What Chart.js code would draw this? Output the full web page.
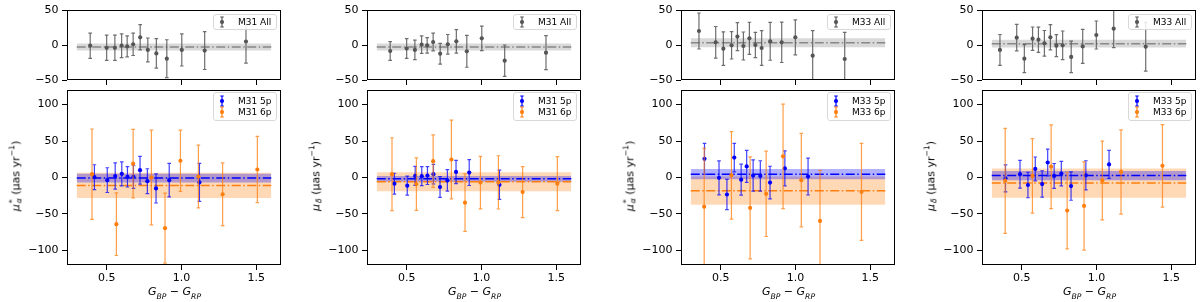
<!DOCTYPE html>
<html>
<head>
<meta charset="utf-8">
<script src="https://cdn.jsdelivr.net/npm/chart.js@4.4.1/dist/chart.umd.min.js"></script>
<style>
body { margin: 0; background: #fff; width: 1200px; height: 302px; position: relative; overflow: hidden; font-family: 'DejaVu Sans', sans-serif; }
canvas { position: absolute; }
.leg { position: absolute; width: 64px; border: 1px solid #d8d8d8; border-radius: 3px; background: rgba(255,255,255,0.85); font-size: 9px; color: #000; box-sizing: border-box; }
.leg div { position: absolute; left: 24px; white-space: nowrap; line-height: 10px; }
.leg svg { position: absolute; left: 0; }
.xlab { position: absolute; font-size: 11px; transform: translate(-50%, -50%); white-space: nowrap; }
.ylab { position: absolute; font-size: 11px; transform: translate(-50%, -50%) rotate(-90deg); white-space: nowrap; }
.ylab sup, .xlab sub { font-size: 0.7em; }
.ss { display: inline-flex; flex-direction: column; vertical-align: middle; font-size: 0.7em; line-height: 0.85; margin-left: 1px; }
</style>
</head>
<body>
<script>
// x 座標（色指数 GBP-GRP）と固有運動の値（μas/yr）

// M31
const m31AllColor = [0.39, 0.50, 0.555, 0.60, 0.637, 0.677, 0.724, 0.775, 0.832, 0.902, 1.002, 1.155, 1.431];
const m31AllPmra = [-1, -4, -4, -1, -2, 1, 11, -7, -12, -19.5, -7, -8, 5];
const m31AllPmraErr = [18, 18, 18, 17, 15, 16, 18, 17, 21, 27, 23, 27, 31];
const m31AllPmdec = [-8.6, -5, -7, 0.5, -0.5, 4.3, -12.4, 1, 5.2, -9, 9.5, -22.4, -11];
const m31AllPmdecErr = [13.5, 14, 14, 12.5, 11, 12.6, 14.8, 14, 16.7, 22.8, 17.5, 22.4, 24.3];

const m31Color5p = [0.418, 0.504, 0.557, 0.601, 0.639, 0.679, 0.723, 0.772, 0.83, 0.918, 1.12];
const m31Pmra5p = [0.5, -3.6, 2, 5, 1, 1, 10, -5, -15, -3.6, -6.7];
const m31PmraErr5p = [17, 17, 18, 16.5, 14, 16, 19, 17, 20, 23, 26];
const m31Pmdec5p = [-8.5, -11.2, 2.2, 1.8, 2.7, 4.5, -13, -4, 7.6, 6.7, -10];
const m31PmdecErr5p = [14.3, 13, 13, 13, 12.3, 13.4, 14.3, 14.8, 16, 17.7, 20];

const m31Color6p = [0.402, 0.565, 0.677, 0.799, 0.89, 0.993, 1.113, 1.275, 1.507];
const m31Pmra6p = [4.5, -64, 19, 0, -69.5, 23, 1.3, -23, 11];
const m31PmraErr6p = [62, 43, 47, 65, 48, 42, 43, 43, 45.5];
const m31Pmdec6p = [4.5, -9, 22.4, 24.7, -34.5, -7, -6.7, -20, -8.5];
const m31PmdecErr6p = [50, 36, 36, 54, 39.5, 36, 36.5, 35, 37];

// M33
const m33AllColor = [0.355, 0.467, 0.518, 0.573, 0.612, 0.652, 0.692, 0.732, 0.774, 0.831, 0.908, 0.999, 1.115, 1.329];
const m33AllPmra = [20, 3.8, -5.2, -0.5, 12, -1.4, 9.5, 0, -4.3, 5.2, 3.8, 11, -15.2, -20];
const m33AllPmraErr = [25.7, 22.6, 24, 19.5, 20, 20, 23, 18, 24.8, 27, 28.8, 25, 35.7, 38];
const m33AllPmdec = [-7, 10.5, -19.5, 9, 7.6, 2.4, 11, -1, -0.5, -17, -2, 14.3, 23.3, -2.4];
const m33AllPmdecErr = [22, 19, 20, 16.7, 18, 18.3, 18, 15.7, 20.5, 22.4, 24.3, 20, 27, 34.8];

const m33Color5p = [0.392, 0.489, 0.542, 0.591, 0.637, 0.674, 0.717, 0.765, 0.83, 0.929, 1.084];
const m33Pmra5p = [25.6, -0.4, -23.3, 27.3, -3, 15.2, 2.7, 2.2, -7, 12.6, 1.3];
const m33PmraErr5p = [21.3, 23.3, 20.8, 19.5, 21.3, 22, 21.5, 20.8, 22.4, 24, 25.3];
const m33Pmdec5p = [-1.3, 4.5, -10.3, 11.7, -9, 20.6, 2.2, 5.4, -11.7, 3, 18];
const m33PmdecErr5p = [18.5, 19, 17.5, 16.4, 18, 18.4, 17, 16.8, 19.5, 20, 19.3];

const m33Color6p = [0.39, 0.572, 0.697, 0.804, 0.917, 1.039, 1.164, 1.441];
const m33Pmra6p = [-40, 3, -41.7, -22.4, 29, -3.6, -59.6, -19.7];
const m33PmraErr6p = [80, 60, 70, 58.5, 71.7, 64, 69.5, 66.6];
const m33Pmdec6p = [-4.5, 2.2, 14.8, -45.3, -39, -4, 7.6, 16];
const m33PmdecErr6p = [72, 51, 57.5, 52.5, 60.5, 54, 57.8, 56.5];

// 平均値と 1σ 帯（パネル順: M31 μα*, M31 μδ, M33 μα*, M33 μδ）
const meanAll = [-3, -3, 3.3, 1.9];
const meanAllErr = [5, 5, 6.5, 5.5];
const mean5p = [-0.7, -1.8, 4.5, 2.7];
const mean5pErr = [6, 4, 7, 6.3];
const mean6p = [-10.8, -5.8, -18, -7.6];
const mean6pErr = [17.4, 13, 19.3, 20];
const bandRange = [0.3, 1.6];

// 軸の目盛り
const xTicks = [0.5, 1.0, 1.5];
const yTicksTop = [-50, 0, 50];
const yTicksBottom = [-100, -50, 0, 50, 100];

const panels = [
  { gal: 'M31', comp: 'ra', allX: m31AllColor, all: m31AllPmra, allErr: m31AllPmraErr, x5: m31Color5p, y5: m31Pmra5p, e5: m31PmraErr5p, x6: m31Color6p, y6: m31Pmra6p, e6: m31PmraErr6p },
  { gal: 'M31', comp: 'dec', allX: m31AllColor, all: m31AllPmdec, allErr: m31AllPmdecErr, x5: m31Color5p, y5: m31Pmdec5p, e5: m31PmdecErr5p, x6: m31Color6p, y6: m31Pmdec6p, e6: m31PmdecErr6p },
  { gal: 'M33', comp: 'ra', allX: m33AllColor, all: m33AllPmra, allErr: m33AllPmraErr, x5: m33Color5p, y5: m33Pmra5p, e5: m33PmraErr5p, x6: m33Color6p, y6: m33Pmra6p, e6: m33PmraErr6p },
  { gal: 'M33', comp: 'dec', allX: m33AllColor, all: m33AllPmdec, allErr: m33AllPmdecErr, x5: m33Color5p, y5: m33Pmdec5p, e5: m33PmdecErr5p, x6: m33Color6p, y6: m33Pmdec6p, e6: m33PmdecErr6p },
];

const plotLeft = [67, 367, 681, 982];
const plotW = 215;
const axisW = 60;

const BLUE = '#0000ff';
const ORANGE = '#ff7f0e';
const GRAY = '#555555';

// エラーバー描画
const errorBarPlugin = {
  id: 'errorBars',
  beforeDatasetDraw(chart, args) {
    const ds = chart.data.datasets[args.index];
    if (!ds.errors) return;
    const ctx = chart.ctx;
    const a = chart.chartArea;
    const xs = chart.scales.x, ys = chart.scales.y;
    ctx.save();
    ctx.beginPath();
    ctx.rect(a.left, a.top, a.right - a.left, a.bottom - a.top);
    ctx.clip();
    ctx.strokeStyle = ds.errorColor;
    ctx.lineWidth = 1.2;
    ds.data.forEach((p, i) => {
      const px = xs.getPixelForValue(p.x);
      const t = ys.getPixelForValue(p.y + ds.errors[i]);
      const b = ys.getPixelForValue(p.y - ds.errors[i]);
      ctx.beginPath();
      ctx.moveTo(px, t); ctx.lineTo(px, b);
      ctx.moveTo(px - 1.8, t); ctx.lineTo(px + 1.8, t);
      ctx.moveTo(px - 1.8, b); ctx.lineTo(px + 1.8, b);
      ctx.stroke();
    });
    ctx.restore();
  }
};

// 枠線
const framePlugin = {
  id: 'frame',
  afterDatasetsDraw(chart) {
    const ctx = chart.ctx;
    const a = chart.chartArea;
    ctx.save();
    ctx.strokeStyle = '#000';
    ctx.lineWidth = 1;
    ctx.strokeRect(Math.round(a.left) + 0.5, Math.round(a.top) + 0.5, Math.round(a.right - a.left) - 1, Math.round(a.bottom - a.top) - 1);
    ctx.restore();
  }
};

function pts(xs, ys) {
  return xs.map((x, i) => ({ x: x, y: ys[i] }));
}

function band(m, e, color, order) {
  return [
    { type: 'line', data: [{ x: bandRange[0], y: m - e }, { x: bandRange[1], y: m - e }], borderWidth: 0, pointRadius: 0, fill: false, order: order },
    { type: 'line', data: [{ x: bandRange[0], y: m + e }, { x: bandRange[1], y: m + e }], borderWidth: 0, pointRadius: 0, fill: '-1', backgroundColor: color, order: order }
  ];
}

function meanLine(m, color, order) {
  return { type: 'line', data: [{ x: bandRange[0], y: m }, { x: bandRange[1], y: m }], borderColor: color, borderWidth: 1.5, borderDash: [9, 2.5, 1.5, 2.5], pointRadius: 0, fill: false, order: order };
}

function errSet(xs, ys, es, color, errColor, order) {
  return { type: 'scatter', data: pts(xs, ys), errors: es, errorColor: errColor, pointRadius: 2.1, pointBackgroundColor: color, pointBorderWidth: 0, order: order };
}

function scales(yTicks, yMin, yMax, showX, xHeight) {
  const tickFont = { family: 'DejaVu Sans', size: 11 };
  return {
    x: {
      type: 'linear', min: 0.235, max: 1.665,
      afterBuildTicks: s => { s.ticks = xTicks.map(v => ({ value: v })); },
      afterFit: s => { s.height = xHeight; s.paddingLeft = 0; s.paddingRight = 0; },
      ticks: { display: showX, font: tickFont, color: '#000', padding: 2, autoSkip: false, maxRotation: 0, callback: v => v.toFixed(1) },
      grid: { drawOnChartArea: false, drawTicks: true, tickLength: 5, color: '#000', lineWidth: 1 },
      border: { display: false }
    },
    y: {
      type: 'linear', min: yMin, max: yMax,
      afterBuildTicks: s => { s.ticks = yTicks.map(v => ({ value: v })); },
      afterFit: s => { s.width = axisW; s.paddingTop = 0; s.paddingBottom = 0; },
      ticks: { font: tickFont, color: '#000', padding: 3.5, autoSkip: false, callback: v => String(v).replace('-', '\u2212') },
      grid: { drawOnChartArea: false, drawTicks: true, tickLength: 5, color: '#000', lineWidth: 1 },
      border: { display: false }
    }
  };
}

function makeCanvas(left, top, w, h) {
  const c = document.createElement('canvas');
  c.width = w; c.height = h;
  c.style.left = left + 'px'; c.style.top = top + 'px';
  c.style.width = w + 'px'; c.style.height = h + 'px';
  document.body.appendChild(c);
  return c.getContext('2d');
}

const baseOptions = {
  responsive: false,
  animation: false,
  events: [],
  plugins: { legend: { display: false }, tooltip: { enabled: false } }
};

function icon(color) {
  return '<svg width="16" height="12" viewBox="0 0 16 12"><path d="M8 1V11M6.2 1H9.8M6.2 11H9.8" stroke="' + color + '" stroke-width="1.2" fill="none"/><circle cx="8" cy="6" r="2.1" fill="' + color + '"/></svg>';
}

function addLegend(right, top, entries) {
  const d = document.createElement('div');
  d.className = 'leg';
  d.style.left = (right - 64) + 'px';
  d.style.top = top + 'px';
  d.style.height = (entries.length === 1 ? 16 : 29) + 'px';
  d.innerHTML = entries.map((e, i) => {
    const cy = entries.length === 1 ? 7 : 7.5 + i * 11.7;
    return '<span style="position:absolute;left:0;top:' + (cy - 6) + 'px;">' + icon(e[1]) + '</span>' +
      '<div style="top:' + (cy - 5) + 'px">' + e[0] + '</div>';
  }).join('');
  document.body.appendChild(d);
}

function addHtml(cls, left, top, html) {
  const d = document.createElement('div');
  d.className = cls;
  d.style.left = left + 'px';
  d.style.top = top + 'px';
  d.innerHTML = html;
  document.body.appendChild(d);
}

panels.forEach((p, k) => {
  const left = plotLeft[k] - axisW;
  const w = axisW + plotW + 3;

  // 上段: All
  new Chart(makeCanvas(left, 0, w, 87), {
    type: 'scatter',
    data: {
      datasets: [
        ...band(meanAll[k], meanAllErr[k], 'rgba(128,128,128,0.3)', 9),
        meanLine(meanAll[k], '#888888', 7),
        errSet(p.allX, p.all, p.allErr, GRAY, 'rgba(85,85,85,0.85)', 2)
      ]
    },
    options: { ...baseOptions, layout: { padding: { top: 10, right: 3, left: 0, bottom: 0 } }, scales: scales(yTicksTop, -50, 50, false, 7) },
    plugins: [errorBarPlugin, framePlugin]
  });

  // 下段: 5p / 6p
  new Chart(makeCanvas(left, 86, w, 216), {
    type: 'scatter',
    data: {
      datasets: [
        ...band(mean6p[k], mean6pErr[k], 'rgba(255,127,14,0.3)', 10),
        ...band(mean5p[k], mean5pErr[k], 'rgba(0,0,255,0.3)', 9),
        meanLine(mean6p[k], ORANGE, 7),
        meanLine(mean5p[k], BLUE, 6),
        errSet(p.x5, p.y5, p.e5, BLUE, 'rgba(0,0,255,0.75)', 3),
        errSet(p.x6, p.y6, p.e6, ORANGE, 'rgba(255,127,14,0.75)', 2)
      ]
    },
    options: { ...baseOptions, layout: { padding: { top: 1, right: 3, left: 0, bottom: 0 } }, scales: scales(yTicksBottom, -120, 120, true, 37) },
    plugins: [errorBarPlugin, framePlugin]
  });

  const right = plotLeft[k] + plotW - 5;
  addLegend(right, 14, [[p.gal + ' All', GRAY]]);
  addLegend(right, 92, [[p.gal + ' 5p', BLUE], [p.gal + ' 6p', ORANGE]]);

  const cx = plotLeft[k] + plotW / 2;
  addHtml('xlab', cx, 293, '<i>G<sub>BP</sub></i> \u2212 <i>G<sub>RP</sub></i>');
  const yl = p.comp === 'ra'
    ? '<i>\u03bc</i><span class="ss"><span>*</span><i>\u03b1</i></span> (\u03bcas yr<sup>\u22121</sup>)'
    : '<i>\u03bc</i><span class="ss"><span>&nbsp;</span><i>\u03b4</i></span> (\u03bcas yr<sup>\u22121</sup>)';
  addHtml('ylab', plotLeft[k] - 52, 176, yl);
});
</script>
</body>
</html>
